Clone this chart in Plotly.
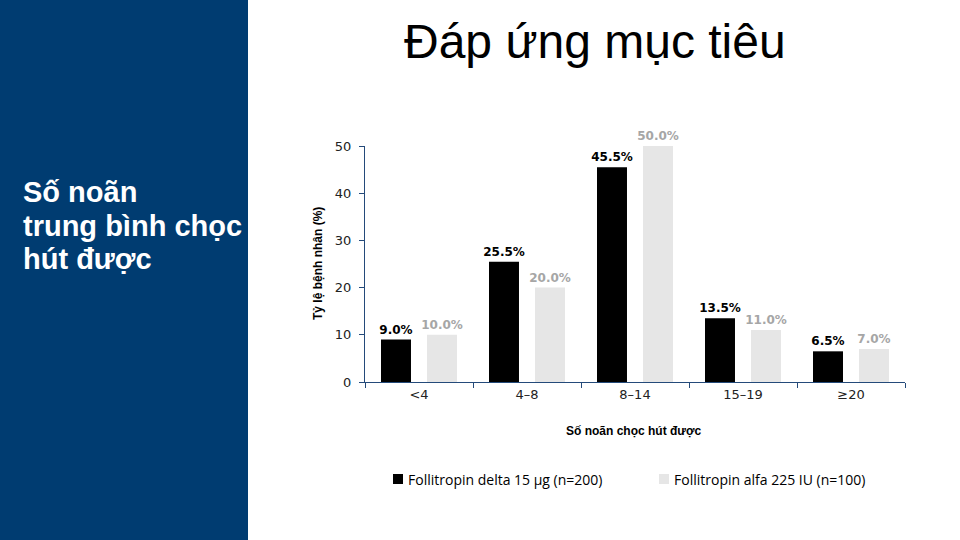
import plotly.graph_objects as go

categories = ["<4", "4–8", "8–14", "15–19", "≥20"]
delta_values = [9.0, 25.5, 45.5, 13.5, 6.5]
alfa_values = [10.0, 20.0, 50.0, 11.0, 7.0]
series_names = ["Follitropin delta 15 µg (n=200)", "Follitropin alfa 225 IU (n=100)"]
y_ticks = [0, 10, 20, 30, 40, 50]
panel_lines = ["Số noãn", "trung bình chọc", "hút được"]

W, H = 960, 540
AX_L, AX_R, AX_T, AX_B = 365, 905, 146, 382
AXIS_COLOR = "#244A7A"
PANEL = "#003C71"

def fx(p):
    return p / W

def fy(q):
    return (H - q) / H

fig = go.Figure()
fig.add_trace(go.Bar(
    x=categories, y=delta_values, name=series_names[0],
    marker=dict(color="#000000", line=dict(width=0)),
    text=[f"{v:.1f}%" for v in delta_values], textposition="outside",
    constraintext="none",
    textfont=dict(family="DejaVu Sans", size=12, color="#000000", weight="bold"),
    cliponaxis=False, showlegend=False,
))
fig.add_trace(go.Bar(
    x=categories, y=alfa_values, name=series_names[1],
    marker=dict(color="#E6E6E6", line=dict(width=0)),
    text=[f"{v:.1f}%" for v in alfa_values], textposition="outside",
    constraintext="none",
    textfont=dict(family="DejaVu Sans", size=12, color="#A6A6A6", weight="bold"),
    cliponaxis=False, showlegend=False,
))

fig.update_layout(
    width=W, height=H,
    margin=dict(l=0, r=0, t=0, b=0),
    paper_bgcolor="white", plot_bgcolor="white",
    barmode="group", bargap=0.148, bargroupgap=0.348,
    showlegend=False,
    font=dict(family="DejaVu Sans", color="#222222"),
    xaxis=dict(
        domain=[fx(AX_L), fx(AX_R)], automargin=False,
        showline=True, linecolor=AXIS_COLOR, linewidth=1.3,
        ticks="outside", tickson="boundaries", ticklen=5, tickcolor=AXIS_COLOR,
        tickfont=dict(family="DejaVu Sans", size=13, color="#222222"),
        showgrid=False, zeroline=False,
    ),
    yaxis=dict(
        domain=[fy(AX_B), fy(AX_T)], automargin=False,
        range=[0, 50], tickvals=y_ticks,
        showline=True, linecolor=AXIS_COLOR, linewidth=1.3,
        ticks="outside", ticklen=5, tickcolor=AXIS_COLOR,
        ticklabelstandoff=5,
        tickfont=dict(family="DejaVu Sans", size=13, color="#222222"),
        showgrid=False, zeroline=False,
    ),
)

shapes = [
    dict(type="rect", xref="paper", yref="paper", x0=0, x1=fx(248), y0=0, y1=1,
         fillcolor=PANEL, line=dict(width=0), layer="below"),
]
annotations = [
    dict(text="Đáp ứng mục tiêu", xref="paper", yref="paper", x=fx(595), y=fy(41),
         xanchor="center", yanchor="middle", showarrow=False,
         font=dict(family="Liberation Sans", size=48, color="#000000")),
    dict(text="Tỷ lệ bệnh nhân (%)", xref="paper", yref="paper", x=fx(318), y=fy(264),
         xanchor="center", yanchor="middle", textangle=-90, showarrow=False,
         font=dict(family="Liberation Sans", size=12, color="#000000", weight="bold")),
    dict(text="Số noãn chọc hút được", xref="paper", yref="paper", x=fx(634), y=fy(431),
         xanchor="center", yanchor="middle", showarrow=False,
         font=dict(family="Liberation Sans", size=12, color="#000000", weight="bold")),
]

for i, line in enumerate(panel_lines):
    annotations.append(dict(text=line, xref="paper", yref="paper",
                            x=fx(21), y=fy(192 + 33.5 * i), xanchor="left", yanchor="middle",
                            showarrow=False,
                            font=dict(family="Liberation Sans", size=29, color="white",
                                      weight="bold")))

legend_items = [(393, "#000000", series_names[0]), (659, "#E6E6E6", series_names[1])]
for x0, col, name in legend_items:
    shapes.append(dict(type="rect", xref="paper", yref="paper",
                       x0=fx(x0), x1=fx(x0 + 10), y0=fy(484), y1=fy(474),
                       fillcolor=col, line=dict(width=0)))
    annotations.append(dict(text=name, xref="paper", yref="paper", x=fx(x0 + 13), y=fy(479),
                            xanchor="left", yanchor="middle", showarrow=False,
                            font=dict(family="Open Sans", size=14, color="#000000")))

fig.update_layout(shapes=shapes, annotations=annotations)
fig.write_html("out.html", config={"displayModeBar": False},
               post_script="document.body.style.margin='0';document.body.style.padding='0';")
